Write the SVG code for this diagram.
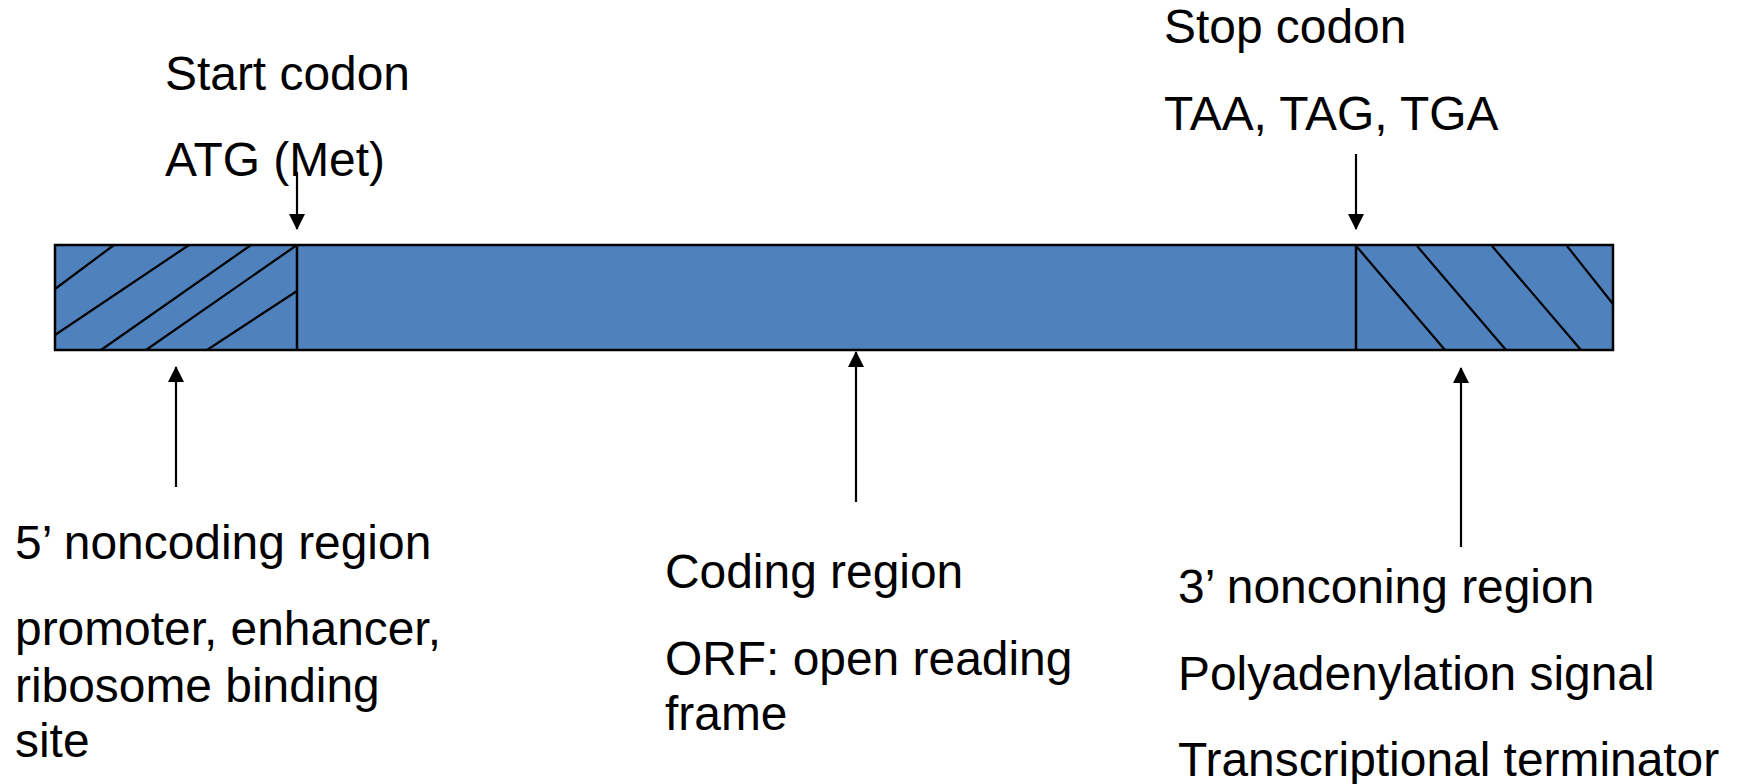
<svg xmlns="http://www.w3.org/2000/svg" width="1737" height="784" viewBox="0 0 1737 784">
  <defs>
    <style>
      .label { font-family: "Liberation Sans", Arial, sans-serif; font-size: 47.9px; fill: #000; }
      .band { fill: #4F81BD; stroke: #000; stroke-width: 2.5; }
      .hatch { stroke: #000; stroke-width: 2.2; fill: none; }
      .divider { stroke: #000; stroke-width: 2.5; }
      .conn { stroke: #000; stroke-width: 2.2; fill: none; }
    </style>
    <marker id="arrowhead" markerUnits="userSpaceOnUse" markerWidth="16" markerHeight="16" viewBox="0 0 16 16" refX="15" refY="8" orient="auto">
      <path d="M0,0 L16,8 L0,16 Z" fill="#000"/>
    </marker>
  </defs>

  <rect width="1737" height="784" fill="#fff"/>

  <!-- gene band: 5' UTR, coding region, 3' UTR -->
  <g id="gene-band">
    <rect class="band" x="55" y="245" width="1558" height="105"/>
    <g id="utr5-hatch">
      <line class="hatch" x1="55" y1="289" x2="114" y2="245"/>
      <line class="hatch" x1="55" y1="335" x2="189" y2="245"/>
      <line class="hatch" x1="101" y1="350" x2="251" y2="245"/>
      <line class="hatch" x1="146" y1="350" x2="297" y2="245"/>
      <line class="hatch" x1="207" y1="350" x2="297" y2="291"/>
    </g>
    <g id="utr3-hatch">
      <line class="hatch" x1="1357" y1="247" x2="1445" y2="350"/>
      <line class="hatch" x1="1417" y1="246" x2="1506" y2="350"/>
      <line class="hatch" x1="1492" y1="246" x2="1581" y2="350"/>
      <line class="hatch" x1="1567" y1="246" x2="1613" y2="304"/>
    </g>
    <line class="divider" x1="297" y1="245" x2="297" y2="350"/>
    <line class="divider" x1="1356" y1="245" x2="1356" y2="350"/>
  </g>

  <!-- pointer arrows -->
  <g id="connectors">
    <line class="conn" x1="297" y1="172" x2="297" y2="229" marker-end="url(#arrowhead)"/>
    <line class="conn" x1="1356" y1="154" x2="1356" y2="229" marker-end="url(#arrowhead)"/>
    <line class="conn" x1="176" y1="487" x2="176" y2="367" marker-end="url(#arrowhead)"/>
    <line class="conn" x1="856" y1="502" x2="856" y2="352" marker-end="url(#arrowhead)"/>
    <line class="conn" x1="1461" y1="547" x2="1461" y2="368" marker-end="url(#arrowhead)"/>
  </g>

  <g id="start-codon">
    <text class="label" x="165" y="90">Start codon</text>
    <text class="label" x="165" y="176">ATG (Met)</text>
  </g>

  <g id="stop-codon">
    <text class="label" x="1164" y="43">Stop codon</text>
    <text class="label" x="1164" y="130">TAA, TAG, TGA</text>
  </g>

  <g id="utr5-label">
    <text class="label" x="15" y="559">5’ noncoding region</text>
    <text class="label" x="15" y="645">promoter, enhancer,</text>
    <text class="label" x="15" y="702">ribosome binding</text>
    <text class="label" x="15" y="757">site</text>
  </g>

  <g id="coding-label">
    <text class="label" x="665" y="588">Coding region</text>
    <text class="label" x="665" y="675">ORF: open reading</text>
    <text class="label" x="665" y="730">frame</text>
  </g>

  <g id="utr3-label">
    <text class="label" x="1178" y="603">3’ nonconing region</text>
    <text class="label" x="1178" y="690">Polyadenylation signal</text>
    <text class="label" x="1178" y="776">Transcriptional terminator</text>
  </g>
</svg>
